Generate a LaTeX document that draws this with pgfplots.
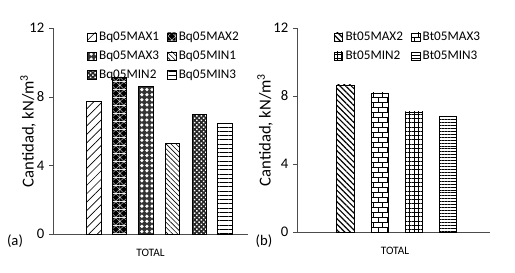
\documentclass[border=0pt]{standalone}
\usepackage{fontspec}
\setmainfont{Carlito}
\usepackage{pgfplots}
\pgfplotsset{compat=1.18}
\usetikzlibrary{patterns,patterns.meta}

\pgfdeclarepatternformonly{mydiamonds}{\pgfqpoint{0pt}{0pt}}{\pgfqpoint{6pt}{6pt}}{\pgfqpoint{6pt}{6pt}}{%
  \pgfpathmoveto{\pgfqpoint{3pt}{0.4pt}}\pgfpathlineto{\pgfqpoint{5.6pt}{3pt}}\pgfpathlineto{\pgfqpoint{3pt}{5.6pt}}\pgfpathlineto{\pgfqpoint{0.4pt}{3pt}}\pgfpathclose
  \pgfpathmoveto{\pgfqpoint{0pt}{0pt}}\pgfpathlineto{\pgfqpoint{2.6pt}{0pt}}\pgfpathlineto{\pgfqpoint{0pt}{2.6pt}}\pgfpathclose
  \pgfpathmoveto{\pgfqpoint{6pt}{0pt}}\pgfpathlineto{\pgfqpoint{6pt}{2.6pt}}\pgfpathlineto{\pgfqpoint{3.4pt}{0pt}}\pgfpathclose
  \pgfpathmoveto{\pgfqpoint{0pt}{6pt}}\pgfpathlineto{\pgfqpoint{0pt}{3.4pt}}\pgfpathlineto{\pgfqpoint{2.6pt}{6pt}}\pgfpathclose
  \pgfpathmoveto{\pgfqpoint{6pt}{6pt}}\pgfpathlineto{\pgfqpoint{3.4pt}{6pt}}\pgfpathlineto{\pgfqpoint{6pt}{3.4pt}}\pgfpathclose
  \pgfusepath{fill}}

\pgfdeclarepatternformonly{mybricks}{\pgfqpoint{-0.5pt}{-0.5pt}}{\pgfqpoint{7.25pt}{8pt}}{\pgfqpoint{6.75pt}{7.5pt}}{%
  \pgfsetlinewidth{0.6pt}
  \pgfpathmoveto{\pgfqpoint{0pt}{0pt}}\pgfpathlineto{\pgfqpoint{6.75pt}{0pt}}
  \pgfpathmoveto{\pgfqpoint{0pt}{3.75pt}}\pgfpathlineto{\pgfqpoint{6.75pt}{3.75pt}}
  \pgfpathmoveto{\pgfqpoint{0pt}{0pt}}\pgfpathlineto{\pgfqpoint{0pt}{3.75pt}}
  \pgfpathmoveto{\pgfqpoint{3.375pt}{3.75pt}}\pgfpathlineto{\pgfqpoint{3.375pt}{7.5pt}}
  \pgfusepath{stroke}}

\pgfplotsset{
  mybase/.style={
    scale only axis,
    axis lines=left,
    axis line style={-, draw=black!70},
    ymin=0, ymax=12, ytick={0,4,8,12},
    ytick style={draw=black!70},
    tick align=outside,
    major tick length=3pt,
    x tick style={draw=none},
    xtick={97.5}, xticklabels={TOTAL},
    xticklabel style={font=\fontsize{8.5}{10}\selectfont, yshift=-5pt},
    yticklabel style={font=\fontsize{11}{13}\selectfont},
    /pgf/number format/assume math mode=true,
    ylabel={Cantidad, kN/m\textsuperscript{3}},
    ylabel style={font=\fontsize{12.5}{15}\selectfont},
    ybar, bar shift=0pt,
    legend image code/.code={\draw[#1,draw=black,line width=0.4pt] (0pt,-3.2pt) rectangle (6.4pt,3.2pt);},
    legend style={draw=none, fill=none, legend columns=2,
      font=\fontsize{9.9}{11}\selectfont,
      /tikz/every even column/.append style={column sep=4pt},
      row sep=2.2pt, inner sep=0pt},
    legend cell align=left,
    every axis plot/.append style={draw=black, line width=0.5pt, fill=white},
  }
}

\begin{document}
\begin{tikzpicture}
\useasboundingbox (0,0) rectangle (386.25pt,-204pt);

\begin{axis}[mybase,
  at={(39.75pt,-175.5pt)}, anchor=south west,
  width=146.25pt, height=154.5pt,
  xmin=0, xmax=195, bar width=14.5,
  ylabel style={at={(axis description cs:-0.128,0.5)}, anchor=center},
  legend style={at={(axis description cs:0.175,0.995)}, anchor=north west},
]
\addplot[pattern={Lines[angle=45,distance=4.5pt,line width=0.5pt]}] coordinates {(41,7.72)};
\addplot[pattern=mydiamonds] coordinates {(66.5,9.13)};
\addplot[fill=black!80, postaction={pattern={Dots[radius=1.35pt,distance=3.8pt]}, pattern color=white}] coordinates {(93,8.6)};
\addplot[pattern={Lines[angle=-45,distance=2.6pt,line width=0.45pt]}] coordinates {(119.5,5.3)};
\addplot[fill=black!85, postaction={pattern={Dots[radius=0.8pt,distance=2.4pt,angle=45]}, pattern color=white}] coordinates {(146.5,6.98)};
\addplot[pattern={Lines[angle=0,distance=3.2pt,line width=0.5pt]}] coordinates {(172,6.45)};
\legend{Bq05MAX1,Bq05MAX2,Bq05MAX3,Bq05MIN1,Bq05MIN2,Bq05MIN3}
\end{axis}

\begin{axis}[mybase,
  at={(222.75pt,-174pt)}, anchor=south west,
  width=144.75pt, height=153pt,
  xmin=0, xmax=193, bar width=17.5,
  xtick={98},
  ylabel style={at={(axis description cs:-0.166,0.5)}, anchor=center},
  legend style={at={(axis description cs:0.19,0.995)}, anchor=north west},
]
\addplot[pattern={Lines[angle=-45,distance=3pt,line width=0.9pt]}] coordinates {(48.5,8.65)};
\addplot[pattern=mybricks] coordinates {(83,8.18)};
\addplot[pattern={Hatch[angle=0,distance=3.2pt,line width=0.45pt]}] coordinates {(117,7.06)};
\addplot[pattern={Lines[angle=0,distance=2.2pt,line width=0.55pt]}] coordinates {(151,6.82)};
\legend{Bt05MAX2,Bt05MAX3,Bt05MIN2,Bt05MIN3}
\end{axis}

\node[font=\fontsize{11}{13}\selectfont] at (11.25pt,-180.75pt) {(a)};
\node[font=\fontsize{11}{13}\selectfont] at (198pt,-180.75pt) {(b)};
\end{tikzpicture}
\end{document}
